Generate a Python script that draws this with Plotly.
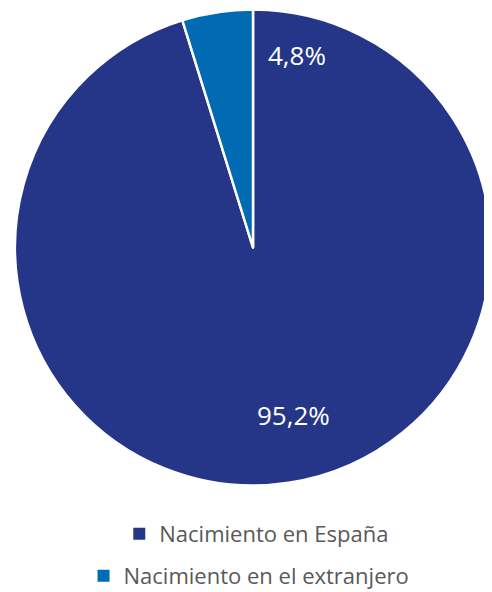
import plotly.graph_objects as go

labels = ['Nacimiento en España', 'Nacimiento en el extranjero']
values = [95.2, 4.8]
colors = ['#253688', '#006bb3']

# label spots (paper coords) picked to match the original layout
label_pos = [(0.589, 0.3217), (0.597, 0.9217)]

# page body has an 8px margin; the figure runs a bit past the bottom edge
# so the lower legend can sit low without pushing the margins
W, H = 484, 600
fig = go.Figure()

fig.add_trace(go.Pie(labels=labels, values=values, sort=False,
                     direction='clockwise', rotation=0,
                     marker=dict(colors=colors, line=dict(color='white', width=2.5)),
                     textinfo='none', hoverinfo='label+percent',
                     domain=dict(x=[7 / W, 483 / W], y=[1 - 478 / H, 1 - 1 / H]),
                     showlegend=False))

# one dummy trace per legend so each legend row can be centered on its own
for i, (lab, col) in enumerate(zip(labels, colors)):
    fig.add_trace(go.Scatter(x=[None], y=[None], mode='markers', name=lab,
                             marker=dict(symbol='square', size=10, color=col),
                             legend='legend' if i == 0 else 'legend2'))

for val, (px_, py_) in zip(values, label_pos):
    fig.add_annotation(x=px_, y=py_, xref='paper', yref='paper', showarrow=False,
                       xanchor='center', yanchor='middle',
                       text=f'{val:.1f}%'.replace('.', ','),
                       font=dict(size=26, color='white', family='Open Sans'))

legend_style = dict(font=dict(size=22, color='#595959', family='Open Sans'),
                    bgcolor='rgba(0,0,0,0)', xanchor='center',
                    yanchor='middle', itemsizing='constant')

fig.update_layout(width=W, height=H, margin=dict(l=0, r=0, t=0, b=0),
                  paper_bgcolor='white', plot_bgcolor='white',
                  xaxis=dict(visible=False), yaxis=dict(visible=False),
                  legend=dict(x=0.514, y=(H - 526) / H, **legend_style),
                  legend2=dict(x=0.498, y=(H - 568) / H, **legend_style))

fig.write_html('out.html')
